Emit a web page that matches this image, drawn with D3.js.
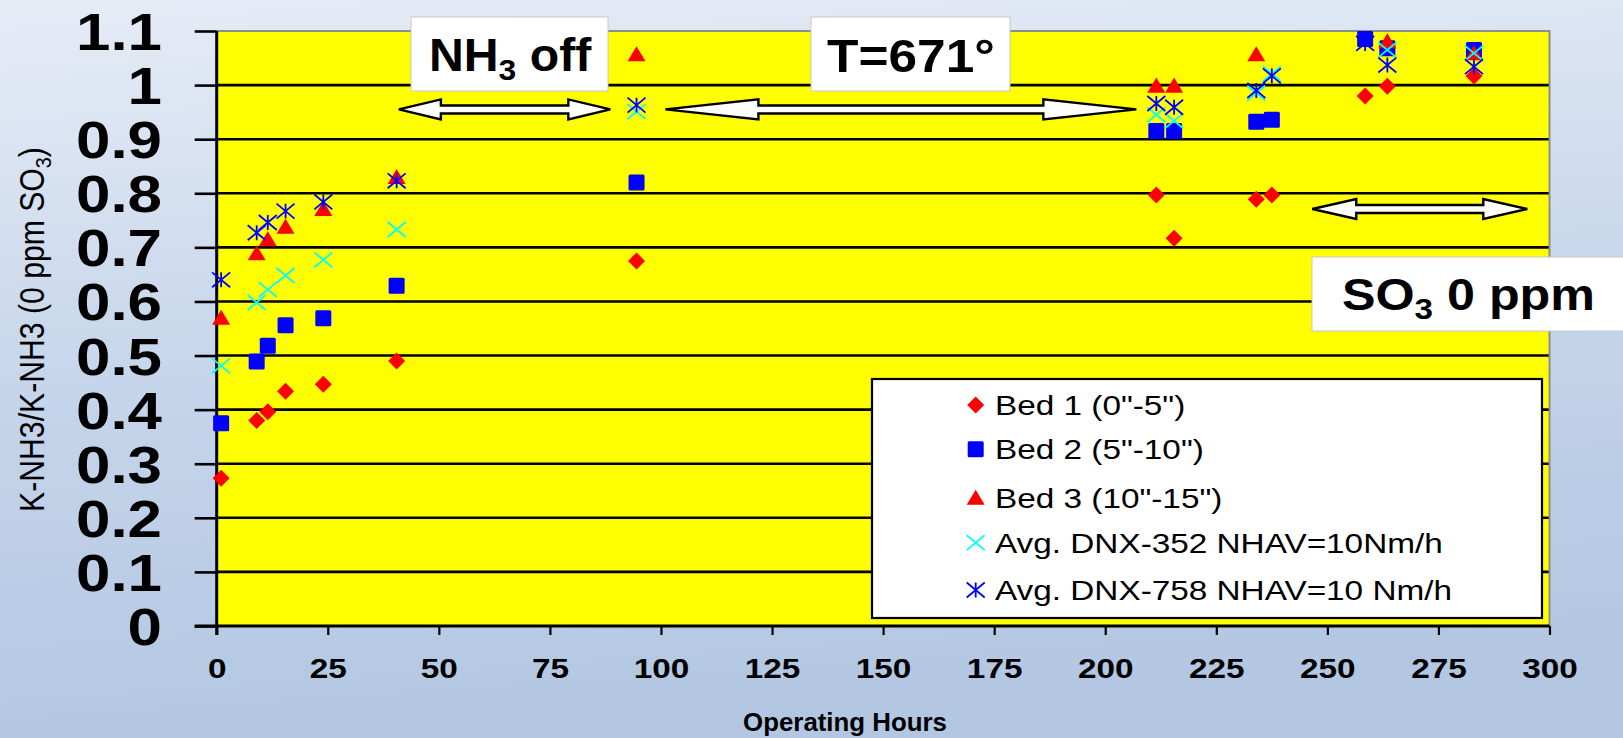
<!DOCTYPE html>
<html>
<head>
<meta charset="utf-8">
<script src="https://cdn.jsdelivr.net/npm/d3@7"></script>
<style>
  html, body { margin: 0; padding: 0; background: #ffffff; }
  svg { display: block; font-family: "Liberation Sans", Arial, sans-serif; }
</style>
</head>
<body>
<svg id="chart" width="1623" height="738"></svg>
<script>
// ---------------- data ----------------
const hours  = [1, 9, 11.5, 15.5, 24, 40.5, 94.5, 211.5, 215.5, 234, 237.5, 258.5, 263.5, 283];
const bed1   = [0.273, 0.380, 0.396, 0.434, 0.447, 0.490, 0.675, 0.797, 0.717, 0.789, 0.797, 0.980, 0.998, 1.017];
const bed2   = [0.375, 0.489, 0.518, 0.556, 0.569, 0.629, 0.820, 0.915, 0.915, 0.932, 0.936, 1.085, 1.068, 1.065];
const bed3   = [0.569, 0.688, 0.714, 0.737, 0.770, 0.829, 1.056, 0.998, 0.998, 1.056, null, null, 1.080, 1.058];
const dnx352 = [0.481, 0.598, 0.622, 0.648, 0.677, 0.733, 0.951, 0.945, 0.934, 0.985, 1.021, null, 1.065, 1.059];
const dnx758 = [0.640, 0.727, 0.746, 0.767, 0.784, 0.823, 0.963, 0.966, 0.959, 0.990, 1.017, 1.077, 1.037, 1.034];

const seriesNames = ['Bed 1 (0"-5")', 'Bed 2 (5"-10")', 'Bed 3 (10"-15")',
                     'Avg. DNX-352 NHAV=10Nm/h', 'Avg. DNX-758 NHAV=10 Nm/h'];
const yTicks = [0, 0.1, 0.2, 0.3, 0.4, 0.5, 0.6, 0.7, 0.8, 0.9, 1.0, 1.1];
const yTickLabels = ["0", "0.1", "0.2", "0.3", "0.4", "0.5", "0.6", "0.7", "0.8", "0.9", "1", "1.1"];
const xTicks = [0, 25, 50, 75, 100, 125, 150, 175, 200, 225, 250, 275, 300];
const xTitle = "Operating Hours";

// ---------------- layout ----------------
const W = 1623, H = 738;
const SX = 1.19; // horizontal text stretch of the original image
const svg = d3.select("#chart");
const x = d3.scaleLinear().domain([0, 300]).range([216.7, 1549.5]);
const y = d3.scaleLinear().domain([0, 1.1]).range([626, 31]);

// background gradient
const defs = svg.append("defs");
const grad = defs.append("linearGradient").attr("id", "bg").attr("x1", 0).attr("y1", 0).attr("x2", 0.15).attr("y2", 1);
grad.append("stop").attr("offset", "0%").attr("stop-color", "#e6ecf6");
grad.append("stop").attr("offset", "55%").attr("stop-color", "#c4d4ea");
grad.append("stop").attr("offset", "100%").attr("stop-color", "#b3c7e2");
svg.append("rect").attr("width", W).attr("height", H).attr("fill", "url(#bg)");

// plot area
svg.append("rect")
  .attr("x", x(0)).attr("y", y(1.1))
  .attr("width", x(300) - x(0)).attr("height", y(0) - y(1.1))
  .attr("fill", "#ffff00");

// gridlines
svg.append("g").selectAll("line")
  .data(yTicks.filter(d => d > 0 && d < 1.1))
  .join("line")
  .attr("x1", x(0)).attr("x2", x(300))
  .attr("y1", d => y(d)).attr("y2", d => y(d))
  .attr("stroke", "#000").attr("stroke-width", 2.6);

// plot border top/right (grey)
svg.append("path")
  .attr("d", `M${x(0)},${y(1.1)} H${x(300)} V${y(0)}`)
  .attr("fill", "none").attr("stroke", "#8c8c8c").attr("stroke-width", 2);

// y axis
const yAxis = svg.append("g").attr("transform", `translate(${x(0)},0)`)
  .call(d3.axisLeft(y).tickValues(yTicks).tickSize(22).tickFormat((d, i) => yTickLabels[i]));
yAxis.select(".domain").remove();
yAxis.selectAll(".tick line").attr("stroke", "#000").attr("stroke-width", 2.6);
yAxis.selectAll(".tick text")
  .attr("x", null).attr("dy", null)
  .attr("text-anchor", "end")
  .attr("transform", `translate(-54.7,18.5) scale(${SX},1)`)
  .attr("font-size", 52).attr("font-weight", "bold").attr("fill", "#000")
  .attr("font-family", "'Liberation Sans', Arial, sans-serif");

// x axis
const xAxis = svg.append("g").attr("transform", `translate(0,${y(0)})`)
  .call(d3.axisBottom(x).tickValues(xTicks).tickSize(9).tickFormat(d3.format("d")));
xAxis.select(".domain").remove();
xAxis.selectAll(".tick line").attr("stroke", "#000").attr("stroke-width", 2.2);
xAxis.selectAll(".tick text")
  .attr("y", null).attr("dy", null)
  .attr("text-anchor", "middle")
  .attr("transform", `translate(0,52) scale(${SX},1)`)
  .attr("font-size", 28).attr("font-weight", "bold").attr("fill", "#000")
  .attr("font-family", "'Liberation Sans', Arial, sans-serif");

// axis lines
svg.append("line").attr("x1", x(0)).attr("x2", x(0)).attr("y1", y(1.1)).attr("y2", y(0) + 9)
  .attr("stroke", "#000").attr("stroke-width", 3);
svg.append("line").attr("x1", x(0) - 22).attr("x2", x(300)).attr("y1", y(0)).attr("y2", y(0))
  .attr("stroke", "#000").attr("stroke-width", 2.8);

// axis titles
{
  const xt = svg.append("text")
    .attr("text-anchor", "middle")
    .attr("font-size", 26).attr("font-weight", "bold").attr("fill", "#000")
    .text(xTitle);
  const w = xt.node().getBBox().width;
  xt.attr("transform", `translate(845,731) scale(${204 / w},1)`);
}

const yt = svg.append("text")
  .attr("text-anchor", "middle")
  .attr("font-size", 29).attr("fill", "#000");
yt.append("tspan").text("K-NH3/K-NH3 (0 ppm SO");
yt.append("tspan").attr("font-size", 19).attr("dy", 6).text("3");
yt.append("tspan").attr("dy", -6).text(")");
{
  const w = yt.node().getBBox().width;
  yt.attr("transform", `translate(45,329.5) rotate(-90) scale(${365 / w},${SX})`)
    .attr("y", -1);
}

// ---------------- annotations ----------------
function arrow(x1, x2, yc, hl) {
  const hh = 10, sh = 4;
  return `M${x1},${yc} L${x1 + hl},${yc - hh} L${x1 + hl},${yc - sh} L${x2 - hl},${yc - sh} L${x2 - hl},${yc - hh} ` +
         `L${x2},${yc} L${x2 - hl},${yc + hh} L${x2 - hl},${yc + sh} L${x1 + hl},${yc + sh} L${x1 + hl},${yc + hh} Z`;
}
const ann = svg.append("g");
ann.append("path").attr("d", arrow(x(41), x(88.6), y(0.955), 42))
  .attr("fill", "#fff").attr("stroke", "#000").attr("stroke-width", 2.4).attr("stroke-linejoin", "miter");
ann.append("path").attr("d", arrow(x(101), x(207), y(0.955), 93))
  .attr("fill", "#fff").attr("stroke", "#000").attr("stroke-width", 2.4);
ann.append("path").attr("d", arrow(x(246.6), x(295), y(0.771), 44))
  .attr("fill", "#fff").attr("stroke", "#000").attr("stroke-width", 2.4);

function box(x0, y0, w, h) {
  ann.append("rect").attr("x", x0).attr("y", y0).attr("width", w).attr("height", h)
    .attr("fill", "#fff").attr("stroke", "#c8c8c8").attr("stroke-width", 1);
}
function label(parts, x0, base, targetW, fs) {
  const t = ann.append("text").attr("font-size", fs).attr("font-weight", "bold").attr("fill", "#000");
  parts.forEach(p => {
    const s = t.append("tspan").text(p.t);
    if (p.sub) s.attr("font-size", fs * 0.66).attr("dy", 9);
    if (p.after) s.attr("dy", -9);
  });
  const w = t.node().getBBox().width;
  t.attr("transform", `translate(${x0},${base}) scale(${targetW / w},1)`);
}
box(411, 17, 197, 74);
label([{t: "NH"}, {t: "3", sub: true}, {t: " off", after: true}], 429, 71, 163, 46);
box(811, 17, 199, 74);
label([{t: "T=671°"}], 827, 71.5, 168, 46);
box(1312, 257, 320, 74);
label([{t: "SO"}, {t: "3", sub: true}, {t: " 0 ppm", after: true}], 1342, 310, 253, 45);

// ---------------- markers ----------------
const shapes = {
  diamond: (g, r) => g.append("path").attr("d", `M0,${-r} L${r},0 L0,${r} L${-r},0 Z`),
  square: (g, r) => g.append("rect").attr("x", -r).attr("y", -r).attr("width", 2 * r).attr("height", 2 * r).attr("rx", 1.5),
  triangle: (g, r) => g.append("path").attr("d", `M0,${-r * 0.95} L${r},${r * 0.72} L${-r},${r * 0.72} Z`),
  cross: (g, r) => g.append("path").attr("d", `M${-r},${-r * 0.83} L${r},${r * 0.83} M${-r},${r * 0.83} L${r},${-r * 0.83}`),
  star: (g, r) => g.append("path").attr("d", `M${-r},${-r * 0.83} L${r},${r * 0.83} M${-r},${r * 0.83} L${r},${-r * 0.83} M0,${-r * 0.83} L0,${r * 0.83}`)
};
const series = [
  { name: seriesNames[0], vals: bed1,   shape: "diamond",  r: 8.5, fill: "#ff0000", stroke: "none" },
  { name: seriesNames[1], vals: bed2,   shape: "square",   r: 8,   fill: "#0000ff", stroke: "none" },
  { name: seriesNames[2], vals: bed3,   shape: "triangle", r: 9,   fill: "#ff0000", stroke: "none" },
  { name: seriesNames[3], vals: dnx352, shape: "cross",    r: 9,   fill: "none",    stroke: "#00ffff" },
  { name: seriesNames[4], vals: dnx758, shape: "star",     r: 9,   fill: "none",    stroke: "#0000ff" }
];
const pts = svg.append("g");
series.forEach(s => {
  const data = hours.map((h, i) => ({ h, v: s.vals[i] })).filter(d => d.v != null);
  pts.append("g").selectAll("g").data(data).join("g")
    .attr("transform", d => `translate(${x(d.h)},${y(d.v)})`)
    .each(function () {
      shapes[s.shape](d3.select(this), s.r)
        .attr("fill", s.fill).attr("stroke", s.stroke).attr("stroke-width", 1.8);
    });
});

// ---------------- legend ----------------
const lg = svg.append("g");
lg.append("rect").attr("x", 872).attr("y", 379).attr("width", 670).attr("height", 239)
  .attr("fill", "#fff").attr("stroke", "#000").attr("stroke-width", 2.2);
const rowY = [405, 449.3, 498.3, 542.7, 590];
series.forEach((s, i) => {
  const g = lg.append("g").attr("transform", `translate(975.7,${rowY[i]})`);
  shapes[s.shape](g, s.r).attr("fill", s.fill).attr("stroke", s.stroke).attr("stroke-width", 1.8);
  lg.append("text")
    .attr("transform", `translate(995,${rowY[i] + 10}) scale(${SX},1)`)
    .attr("font-size", 28).attr("fill", "#000")
    .text(s.name);
});
</script>
</body>
</html>
